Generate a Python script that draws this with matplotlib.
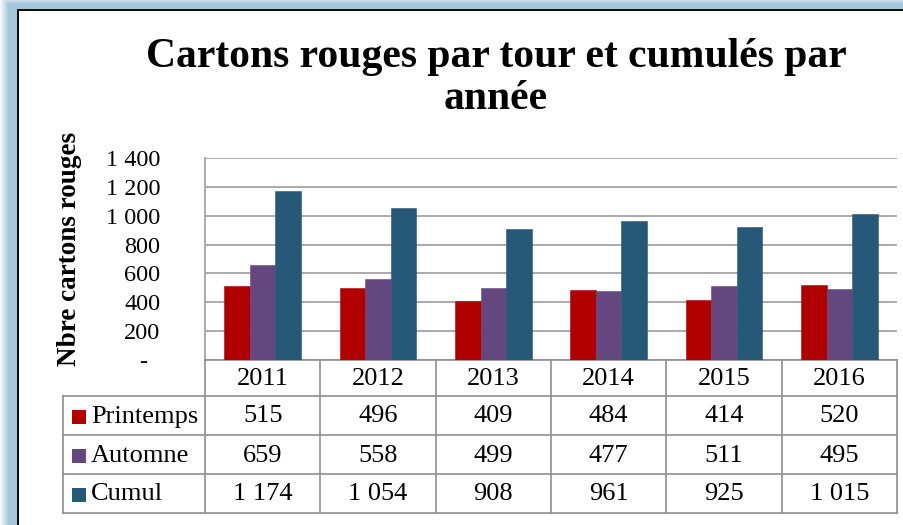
import numpy as np
import matplotlib
matplotlib.use("Agg")
import matplotlib.pyplot as plt
from matplotlib.patches import Rectangle
from matplotlib.lines import Line2D
from matplotlib.transforms import Affine2D, blended_transform_factory

# ---------------- data ----------------
years = ["2011", "2012", "2013", "2014", "2015", "2016"]
series_names = ["Printemps", "Automne", "Cumul"]
printemps = [515, 496, 409, 484, 414, 520]
automne = [659, 558, 499, 477, 511, 495]
cumul = [1174, 1054, 908, 961, 925, 1015]
y_ticks = [0, 200, 400, 600, 800, 1000, 1200, 1400]
title = "Cartons rouges par tour et cumulés par\nannée"
ylabel = "Nbre cartons rouges"

colors = ["#b00000", "#65477f", "#265877"]
W, H = 904, 525
SERIF = ["Liberation Serif", "DejaVu Serif"]


def fmt(v):
    if v == 0:
        return "-  "
    return f"{v:,}".replace(",", " ")


fig = plt.figure(figsize=(W / 100, H / 100), dpi=100)
fig.patch.set_facecolor("white")

# ---------- background frame (blue shadow + black border) ----------
bg = np.ones((H, W, 3))
blue = np.array([165, 199, 219]) / 255.0
xs = np.arange(W)[None, :].repeat(H, 0)
ys = np.arange(H)[:, None].repeat(W, 1)
a_left = np.clip((xs + 1) / 9.0, 0, 1)
a_top = np.clip((ys + 4) / 7.0, 0, 1)
region = (xs < 17) | (ys < 9)
a = np.minimum(a_left, a_top)
for c in range(3):
    bg[..., c] = np.where(region, 1 - a * (1 - blue[c]), 1.0)
bg[9:11, 17:, :] = 0.05
bg[9:, 17:19, :] = 0.05
fig.figimage(bg, xo=0, yo=0, origin="upper", zorder=0)

# pixel transform (origin top-left, y down)
pix = Affine2D().scale(1 / W, -1 / H).translate(0, 1) + fig.transFigure

# ---------------- axes ----------------
def px(x0, y0, x1, y1):
    return [x0 / W, 1 - y1 / H, (x1 - x0) / W, (y1 - y0) / H]

ax = fig.add_axes(px(205, 158, 897, 360))
ax.set_facecolor("none")
ax.set_zorder(2)

n = len(years)
x = np.arange(n)
bw = 1 / 4.5
for i, (vals, col) in enumerate(zip([printemps, automne, cumul], colors)):
    ax.bar(x + (i - 1) * bw, vals, width=bw, color=col, zorder=3,
           edgecolor=col, linewidth=0.4)

ax.set_xlim(-0.5, n - 0.5)
ax.set_ylim(0, 1400)
ax.set_yticks(y_ticks)
ax.set_yticklabels([fmt(v) for v in y_ticks], fontfamily=SERIF, fontsize=17.5)
ax.tick_params(axis="y", length=0, pad=32)
ax.set_xticks([])
ax.yaxis.grid(True, color="#9c9c9c", linewidth=1.2, zorder=0)
ax.set_axisbelow(True)
for s in ["top", "right"]:
    ax.spines[s].set_visible(False)
ax.spines["left"].set_color("#9c9c9c")
ax.spines["left"].set_linewidth(1.2)
ax.spines["bottom"].set_color("#8f8f8f")
ax.spines["bottom"].set_linewidth(1.2)

# ---------------- data table ----------------
xd_yp = blended_transform_factory(ax.transData, pix)
tcol = "#8f8f8f"
tlw = 1.2
TFS = 19
L, T, B = 63, 360, 513
row_edges = [360, 396, 435, 474, 513]
row_cent = [(row_edges[k] + row_edges[k + 1]) / 2 + 1 for k in range(4)]

for k, yy in enumerate(row_edges):
    if k == 0:
        continue
    fig.add_artist(Line2D([L, 897], [yy, yy], transform=pix, color=tcol, lw=tlw, zorder=4))
fig.add_artist(Line2D([L, L], [396, B], transform=pix, color=tcol, lw=tlw, zorder=4))
for b in np.arange(n + 1) - 0.5:
    fig.add_artist(Line2D([b, b], [T, B], transform=xd_yp, color=tcol, lw=tlw, zorder=4))

for j, yr in enumerate(years):
    fig.text(j, row_cent[0], yr, transform=xd_yp, ha="center", va="center",
             fontfamily=SERIF, fontsize=TFS, zorder=5)
for r, (name, vals, col) in enumerate(zip(series_names, [printemps, automne, cumul], colors), start=1):
    yc = row_cent[r]
    fig.add_artist(Rectangle((72, yc - 7), 14, 14, transform=pix, facecolor=col,
                             edgecolor="none", zorder=5))
    fig.text(91, yc, name, transform=pix, ha="left", va="center",
             fontfamily=SERIF, fontsize=TFS, zorder=5)
    for j, v in enumerate(vals):
        fig.text(j, yc, fmt(v), transform=xd_yp, ha="center", va="center",
                 fontfamily=SERIF, fontsize=TFS, zorder=5)

# ---------------- texts ----------------
fig.text(496 / W, 1 - 78 / H, title, ha="center", va="center",
         fontfamily=SERIF, fontweight="bold", fontsize=30, linespacing=1.15)
fig.text(70 / W, 1 - 249 / H, ylabel, ha="center", va="center", rotation=90,
         fontfamily=SERIF, fontweight="bold", fontsize=19.5)

fig.savefig("out.png", dpi=100)
